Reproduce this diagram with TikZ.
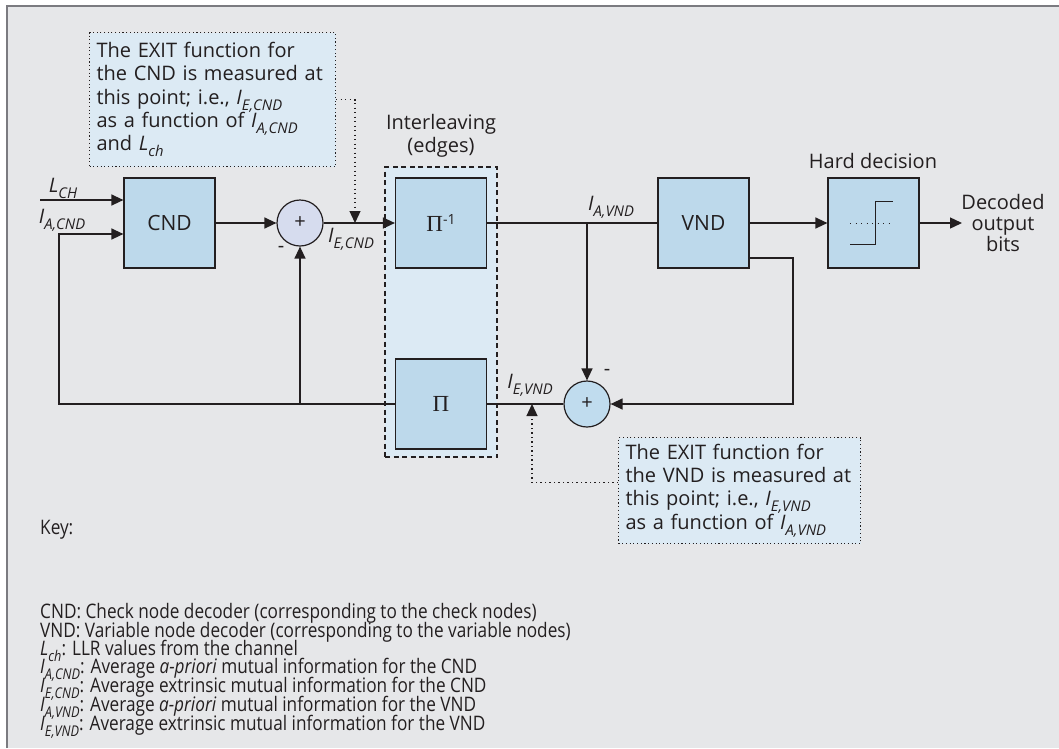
\documentclass[tikz,border=0pt]{standalone}
\usepackage{fontspec}
\setmainfont{Open Sans}
\newfontfamily\condfont{Open Sans}[FakeStretch=0.86]
\newfontfamily\pifont{Liberation Serif}
\usetikzlibrary{arrows.meta}
\definecolor{bgc}{HTML}{E6E7E9}
\definecolor{frc}{HTML}{7B7B80}
\definecolor{boxc}{HTML}{BDD9EB}
\definecolor{sumA}{HTML}{D6DCEE}
\definecolor{sumB}{HTML}{C0DCEE}
\definecolor{exc}{HTML}{DCEAF4}
\definecolor{lnc}{HTML}{231F20}
\makeatletter
\newcommand{\subsz}{\@tempdima=\f@size pt\relax\@tempdima=0.74\@tempdima
  \fontsize{\strip@pt\@tempdima}{\strip@pt\@tempdima}\selectfont}
\makeatother
\newcommand{\IL}[2]{\textit{#1}\raisebox{-0.3em}{\subsz\itshape #2}}
\tikzset{
  every node/.style={text=lnc},
  blk/.style={draw=lnc, line width=1.2pt, fill=boxc, minimum width=91pt, minimum height=90pt, inner sep=0pt, font=\fontsize{21}{24}\selectfont},
  sumc/.style={draw=lnc, line width=1.2pt, circle, minimum size=46pt, inner sep=0pt, font=\fontsize{20}{24}\selectfont},
  wire/.style={draw=lnc, line width=1.3pt},
  arr/.style={wire, -{Triangle[length=12pt,width=11pt]}},
  dotwire/.style={draw=lnc, line width=1.3pt, dash pattern=on 1.3pt off 3.2pt},
  dotarr/.style={dotwire, -{Triangle[length=12pt,width=11pt]}},
  exitbox/.style={draw=lnc, line width=1.1pt, dash pattern=on 1.1pt off 2.6pt, fill=exc, align=left, inner xsep=7pt, font=\fontsize{20}{23.3}\selectfont, anchor=north west},
  lab/.style={font=\fontsize{20}{22}\selectfont, inner sep=0pt},
  txt/.style={font=\fontsize{20}{22.5}\selectfont, inner sep=0pt, align=center},
  keyt/.style={font=\condfont\fontsize{20}{19}\selectfont, inner sep=0pt, anchor=west}
}
\begin{document}
\begin{tikzpicture}[x=1pt,y=-1pt]
\useasboundingbox (0,0) rectangle (1059,748);
\fill[white] (0,0) rectangle (1059,748);
\fill[bgc] (7,6) rectangle (1059,748);
\draw[frc, line width=2pt] (7,748) -- (7,6) -- (1059,6);

% interleaver region
\node[draw=lnc, line width=1.1pt, dash pattern=on 5pt off 3.5pt, fill=exc, minimum width=112pt, minimum height=290pt, inner sep=0pt] (ilv) at (441,312) {};
\node[txt] (ilvlab) at (441,136) {Interleaving\\(edges)};

% blocks
\node[blk] (cnd) at (169.5,223) {CND};
\node[sumc, fill=sumA] (s1) at (300,223) {+};
\node[blk] (pinv) at (441,223) {{\pifont\fontsize{23}{24}\selectfont Π}\raisebox{0.6ex}{\fontsize{14}{14}\selectfont -1}};
\node[blk] (pi) at (441,404) {\pifont\fontsize{23}{24}\selectfont Π};
\node[blk] (vnd) at (703.5,223) {VND};
\node[blk] (hd) at (873.5,223) {};
\node[sumc, fill=sumB] (s2) at (587,404) {+};

% hard decision symbol
\draw[lnc, line width=1pt, dash pattern=on 1pt off 4.5pt] (850,223) -- (894,223);
\draw[lnc, line width=1pt] (850,244) -- (875,244) -- (875,201) -- (893,201);

% coordinates
\coordinate (lch) at (40,200);
\coordinate (fbL) at (59,404);
\coordinate (fbT) at (59,234);
\coordinate (j1) at (300,404);
\coordinate (j2) at (587,223);
\coordinate (vo) at (749,258);
\coordinate (rc) at (793,258);
\coordinate (rb) at (793,404);
\coordinate (outE) at (962,223);
\coordinate (m1) at (355,223);
\coordinate (m2) at (532,404);

% connectors
\draw[arr] (lch) -- (lch -| cnd.west);
\draw[arr] (pi.west) -- (fbL) -- (fbT) -- (fbT -| cnd.west);
\draw[arr] (j1) -- (s1.south);
\draw[arr] (cnd.east) -- (s1.west);
\draw[arr] (s1.east) -- (pinv.west);
\draw[wire] (pinv.east) -- (vnd.west);
\draw[arr] (j2) -- (s2.north);
\draw[arr] (vnd.east) -- (hd.west);
\draw[arr] (vo) -- (rc) -- (rb) -- (s2.east);
\draw[wire] (pi.east) -- (s2.west);
\draw[arr] (hd.east) -- (outE);

% labels
\node[lab] (llch) at (63,188) {\IL{L}{CH}};
\node[lab] (liacnd) at (62,220) {\IL{I}{A,CND}};
\node[lab] (liecnd) at (351,239) {\IL{I}{E,CND}};
\node[lab] (liavnd) at (611,207) {\IL{I}{A,VND}};
\node[lab] (lievnd) at (530,385) {\IL{I}{E,VND}};
\node[lab] (m1s) at (281,249) {-};
\node[lab] (m2s) at (607,372) {-};
\node[txt] (hdl) at (873,161) {Hard decision};
\node[txt, font=\fontsize{20}{21}\selectfont] (outl) at (1003,223) {Decoded\\output\\bits};

% EXIT boxes
\node[exitbox, minimum width=244pt, minimum height=134pt, text width=232pt] (ex1) at (89,32) {The EXIT function for\\the CND is measured at\\this point; i.e., \IL{I}{E,CND}\\as a function of \IL{I}{A,CND}\\and \IL{L}{ch}};
\node[exitbox, minimum width=240pt, minimum height=106pt, text width=228pt] (ex2) at (618,437) {The EXIT function for\\the VND is measured at\\this point; i.e., \IL{I}{E,VND}\\as a function of \IL{I}{A,VND}};
\draw[dotarr] (ex1.east) -| (m1);
\draw[dotarr] (ex2.west) ++(0,-8) -| (m2);

% key
\node[keyt] (key) at (40,530) {Key:};
\node[keyt] (k1) at (40,613) {CND: Check node decoder (corresponding to the check nodes)};
\node[keyt] (k2) at (40,632) {VND: Variable node decoder (corresponding to the variable nodes)};
\node[keyt] (k3) at (40,651) {\IL{L}{ch}: LLR values from the channel};
\node[keyt] (k4) at (40,670) {\IL{I}{A,CND}: Average \textit{a-priori} mutual information for the CND};
\node[keyt] (k5) at (40,689) {\IL{I}{E,CND}: Average extrinsic mutual information for the CND};
\node[keyt] (k6) at (40,708) {\IL{I}{A,VND}: Average \textit{a-priori} mutual information for the VND};
\node[keyt] (k7) at (40,727) {\IL{I}{E,VND}: Average extrinsic mutual information for the VND};
\end{tikzpicture}
\end{document}
